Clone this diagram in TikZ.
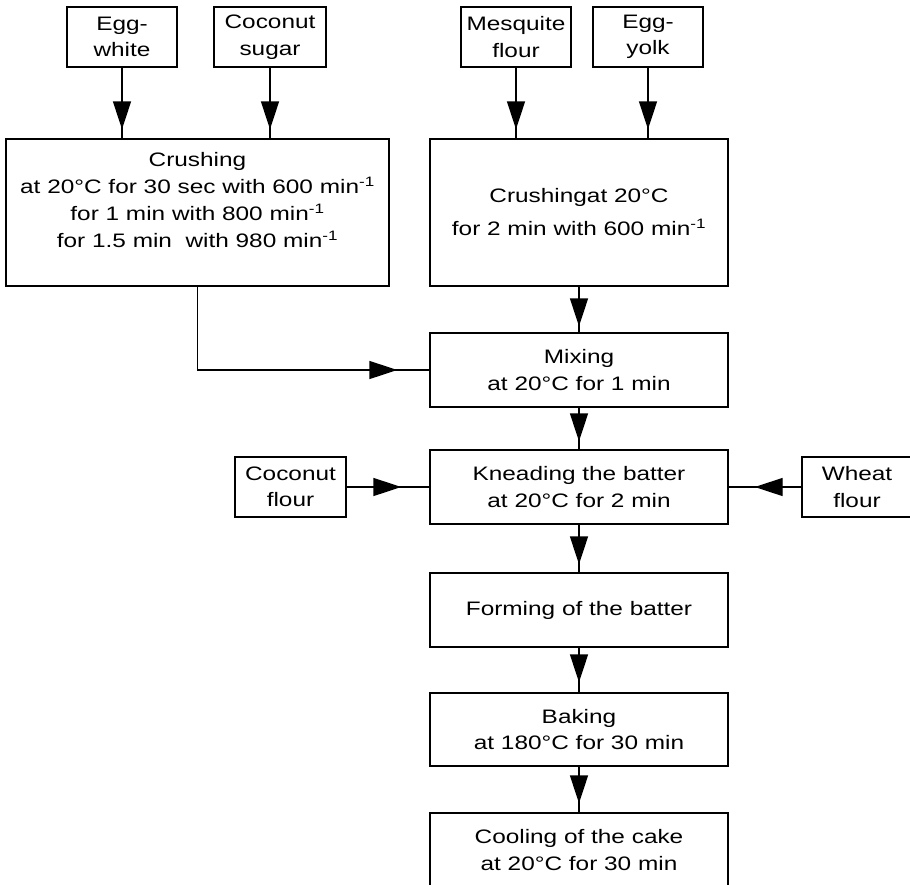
\documentclass[tikz,border=0pt]{standalone}
\usepackage{fontspec}
\setmainfont{Liberation Sans}[FakeStretch=1.25]
\usetikzlibrary{arrows.meta}

\begin{document}
\begin{tikzpicture}[x=1pt, y=-1pt, line width=1.4pt, line cap=round,
		box/.style={draw, inner sep=0pt, align=center,
			font=\fontsize{19.5}{26.5}\selectfont},
		inbox/.style={box, minimum width=110pt, minimum height=60pt},
		stepbox/.style={box, minimum width=298pt, minimum height=74pt},
		flow/.style={postaction={draw, -{Triangle[length=28pt, width=18pt]}, shorten >=#1}}]

			% frame
			\useasboundingbox (0,0) rectangle (910,884);
			\clip (0,0) rectangle (910,884);

			% constants
			\pgfmathsetmacro{\xmain}{579};
			\pgfmathsetmacro{\ytop}{37};
			\pgfmathsetmacro{\ycrush}{212.5};

			% ingredients
			\node[inbox] (eggwhite) at (122, \ytop) {Egg-\\white};
			\node[inbox, minimum width=112pt] (cocosugar) at (270, \ytop) {Coconut\\sugar};
			\node[inbox] (mesquite) at (516, \ytop) {Mesquite\\flour};
			\node[inbox] (eggyolk) at (648, \ytop) {Egg-\\yolk};

			% crushing
			\node[box, minimum width=383pt, minimum height=147pt] (crushwhite) at (197.5, \ycrush) {};
			\node[box, draw=none, font=\fontsize{19.5}{27}\selectfont] at ([yshift=12pt]crushwhite.center)
				{Crushing\\
				at 20°C for 30 sec with 600 min\textsuperscript{-1}\\
				for 1 min with 800 min\textsuperscript{-1}\\
				for 1.5 min\ \ with 980 min\textsuperscript{-1}};
			\node[box, minimum width=298pt, minimum height=147pt,
				font=\fontsize{19.5}{33}\selectfont] (crushyolk) at (\xmain, \ycrush)
				{Crushingat 20°C\\
				for 2 min with 600 min\textsuperscript{-1}};

			% process steps
			\node[stepbox] (mixing) at (\xmain, 370) {Mixing\\at 20°C for 1 min};
			\node[stepbox] (kneading) at (\xmain, 487) {Kneading the batter\\at 20°C for 2 min};
			\node[stepbox] (forming) at (\xmain, 610) {Forming of the batter};
			\node[stepbox, minimum height=73pt] (baking) at (\xmain, 729.5) {Baking\\at 180°C for 30 min};
			\node[stepbox] (cooling) at (\xmain, 850) {Cooling of the cake\\at 20°C for 30 min};

			% side flours
			\node[inbox, minimum width=111pt] (cocoflour) at (290.5, 487) {Coconut\\flour};
			\node[inbox] (wheat) at (857, 487) {Wheat\\flour};

			% arrows into crushing
			\draw[flow=9pt] (eggwhite.south) -- (eggwhite.south |- crushwhite.north);
			\draw[flow=9pt] (cocosugar.south) -- (cocosugar.south |- crushwhite.north);
			\draw[flow=9pt] (mesquite.south) -- (mesquite.south |- crushyolk.north);
			\draw[flow=9pt] (eggyolk.south) -- (eggyolk.south |- crushyolk.north);

			% main line
			\draw[flow=32pt] (crushwhite.south) |- (mixing.west);
			\draw[flow=6pt] (crushyolk.south) -- (mixing.north);
			\draw[flow=8pt] (mixing.south) -- (kneading.north);
			\draw[flow=28pt] (cocoflour.east) -- (kneading.west);
			\draw[flow=26pt] (wheat.west) -- (kneading.east);
			\draw[flow=8pt] (kneading.south) -- (forming.north);
			\draw[flow=10pt] (forming.south) -- (baking.north);
			\draw[flow=9pt] (baking.south) -- (cooling.north);

		\end{tikzpicture}
\end{document}
